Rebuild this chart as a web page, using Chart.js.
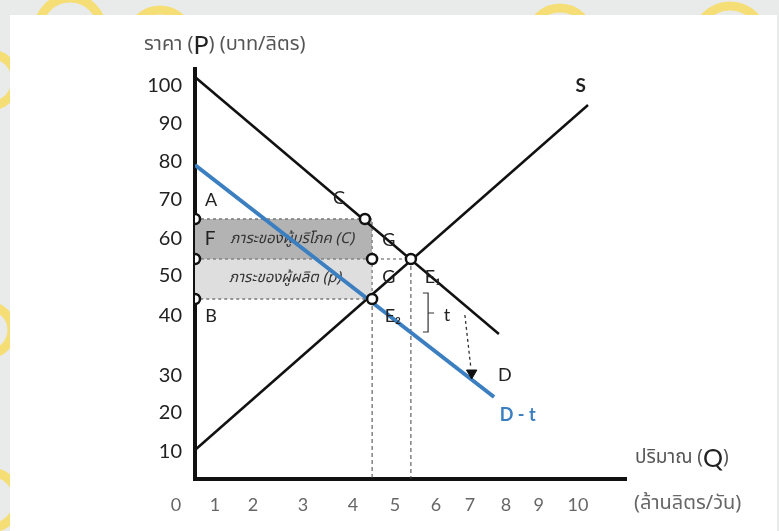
<!DOCTYPE html>
<html>
<head>
<meta charset="utf-8">
<script src="https://cdn.jsdelivr.net/npm/chart.js@4.4.0/dist/chart.umd.min.js"></script>
<style>
  body { margin: 0; background: #e9ebea; }
  canvas { display: block; }
</style>
</head>
<body>
<canvas id="taxChart" width="779" height="531"></canvas>
<script>
// Q = million litres/day, P = baht/litre
const demandQ = [0, 7.6];
const demandP = [100.5, 36.25];
const supplyQ = [0, 9.83];
const supplyP = [7.25, 93.5];
const taxedQ = [0, 7.48];
const taxedP = [78.5, 20.5];

const priceConsumer = 65;
const priceMarket = 55;
const priceProducer = 45;
const qtyTaxed = 4.43;
const qtyMarket = 5.4;
const qtyOnDemand = 4.25;

// tax shift arrow and the "t" bracket
const arrowQ = [6.75, 6.9];
const arrowP = [41, 27.75];
const arrowHead = [6.92, 26.5];
const bracketQ = [5.7, 5.83, 5.83, 5.98, 5.83, 5.83, 5.7];
const bracketP = [46.5, 46.5, 41.5, 41.5, 41.5, 36.75, 36.75];

// the printed axis numbers do not sit on an even grid
const xTickAt = [-0.475, 0.5, 1.45, 2.7, 3.95, 5.0, 6.03, 6.88, 7.78, 8.6, 9.58];
const xTickLabels = ["0", "1", "2", "3", "4", "5", "6", "7", "8", "9", "10"];
const yTickAt = [98.25, 88.75, 79.25, 69.75, 60, 50.75, 40.75, 25.75, 16.5, 6.75];
const yTickLabels = ["100", "90", "80", "70", "60", "50", "40", "30", "20", "10"];

const pts = (qs, ps) => qs.map((q, i) => ({ x: q, y: ps[i] }));

const thai = "'Noto Sans Thai', 'Noto Sans', 'DejaVu Sans', sans-serif";
const latin = "Lato, 'Open Sans', sans-serif";

const blue = "#3c7fc1";
const dashGray = "#7a7a7a";

const markers = [
  { x: 0, y: priceConsumer },
  { x: 0, y: priceMarket },
  { x: 0, y: priceProducer },
  { x: qtyOnDemand, y: priceConsumer },
  { x: qtyTaxed, y: priceMarket },
  { x: qtyTaxed, y: priceProducer },
  { x: qtyMarket, y: priceMarket },
];

const letters = [
  { t: "A", q: 0.4, p: 69.75 },
  { t: "B", q: 0.4, p: 40.75 },
  { t: "C", q: 3.6, p: 70.25 },
  { t: "G", q: 4.85, p: 59.75 },
  { t: "G", q: 4.85, p: 50.5 },
  { t: "E\u2081", q: 5.95, p: 50.5 },
  { t: "E\u2082", q: 4.95, p: 40.75 },
  { t: "t", q: 6.3, p: 41 },
  { t: "D", q: 7.75, p: 26 },
];

function runs(ctx, x, y, parts) {
  ctx.textAlign = "left";
  ctx.textBaseline = "middle";
  parts.forEach(([txt, font, color]) => {
    ctx.font = font;
    ctx.fillStyle = color;
    ctx.fillText(txt, x, y);
    x += ctx.measureText(txt).width;
  });
}

const backdrop = {
  id: "backdrop",
  beforeDraw(chart) {
    const c = chart.ctx;
    c.save();
    c.fillStyle = "#e9ebea";
    c.fillRect(0, 0, chart.width, chart.height);
    // faint yellow watermark bits peeking out in the margin
    c.strokeStyle = "rgba(250, 218, 80, 0.75)";
    c.lineWidth = 9;
    [[70, 30, 32], [160, 40, 30], [560, 38, 30], [730, 40, 34], [-10, 80, 26], [-12, 330, 24], [-10, 500, 28]]
      .forEach(([x, y, r]) => { c.beginPath(); c.arc(x, y, r, 0, Math.PI * 2); c.stroke(); });
    c.fillStyle = "#ffffff";
    c.fillRect(10, 15, 767, chart.height - 15);
    c.restore();
  },
};

let outlineIndex = -1;

const notes = {
  id: "notes",
  afterDatasetDraw(chart, args) {
    if (args.index !== outlineIndex) return;
    const c = chart.ctx;
    const xs = chart.scales.x, ys = chart.scales.y;
    c.save();
    c.textAlign = "center";
    c.textBaseline = "middle";
    c.fillStyle = "#333";
    c.font = "italic 15px " + thai;
    c.fillText("ภาระของผู้บริโภค (C)", xs.getPixelForValue(2.43), ys.getPixelForValue(59.75));
    c.fillText("ภาระของผู้ผลิต (p)", xs.getPixelForValue(2.25), ys.getPixelForValue(50));
    c.font = "19px " + latin;
    c.fillStyle = "#222";
    c.fillText("F", xs.getPixelForValue(0.38), ys.getPixelForValue(60));
    c.restore();
  },
  afterDraw(chart) {
    const c = chart.ctx;
    const xs = chart.scales.x, ys = chart.scales.y;
    c.save();
    c.textAlign = "center";
    c.textBaseline = "middle";
    c.fillStyle = "#222";
    c.font = "18px " + latin;
    letters.forEach((l) => c.fillText(l.t, xs.getPixelForValue(l.q), ys.getPixelForValue(l.p)));
    c.font = "bold 19px " + latin;
    c.fillText("S", xs.getPixelForValue(9.65), ys.getPixelForValue(98.25));
    c.fillStyle = blue;
    c.font = "bold 18px " + latin;
    c.fillText("D - t", xs.getPixelForValue(8.07), ys.getPixelForValue(16));

    runs(c, 144, 46, [
      ["ราคา (", "20px " + thai, "#555"],
      ["P", "25px " + latin, "#222"],
      [") (บาท/ลิตร)", "20px " + thai, "#555"],
    ]);
    runs(c, 635, 459, [
      ["ปริมาณ (", "19px " + thai, "#555"],
      ["Q", "25px " + latin, "#222"],
      [")", "19px " + thai, "#555"],
    ]);
    runs(c, 634, 505, [["(ล้านลิตร/วัน)", "20px " + thai, "#666"]]);
    c.restore();
  },
};

const plain = { showLine: true, pointRadius: 0, fill: false, tension: 0 };

const datasets = [
  { ...plain, label: "markers", data: markers, showLine: false, pointRadius: 5, pointStyle: "circle",
    pointBackgroundColor: "#fff", pointBorderColor: "#111", pointBorderWidth: 2.5, order: 0 },
  { ...plain, label: "arrowhead", data: [{ x: arrowHead[0], y: arrowHead[1] }], showLine: false,
    pointRadius: 6, pointStyle: "triangle", pointRotation: 180, pointBackgroundColor: "#111",
    pointBorderColor: "#111", order: 1 },
  { ...plain, label: "D - t", data: pts(taxedQ, taxedP), borderColor: blue, borderWidth: 4, order: 2 },
  { ...plain, label: "D", data: pts(demandQ, demandP), borderColor: "#111", borderWidth: 2.5, order: 3 },
  { ...plain, label: "S", data: pts(supplyQ, supplyP), borderColor: "#111", borderWidth: 2.5, order: 3 },
  { ...plain, label: "t", data: pts(bracketQ, bracketP), borderColor: "#333", borderWidth: 1.2, order: 4 },
  { ...plain, label: "shift", data: pts(arrowQ, arrowP), borderColor: "#333", borderWidth: 1.3,
    borderDash: [3, 3], order: 4 },
  { ...plain, label: "outline",
    data: pts([0, qtyTaxed, qtyTaxed, 0], [priceConsumer, priceConsumer, priceProducer, priceProducer]),
    borderColor: dashGray, borderWidth: 1.3, borderDash: [3, 3], order: 8 },
  { ...plain, label: "market price", data: pts([0, qtyMarket], [priceMarket, priceMarket]),
    borderColor: dashGray, borderWidth: 1.3, borderDash: [3, 3], order: 8 },
  { ...plain, label: "Q taxed", data: pts([qtyTaxed, qtyTaxed], [priceProducer, 0]),
    borderColor: "#444", borderWidth: 1, borderDash: [4, 3], order: 8 },
  { ...plain, label: "Q market", data: pts([qtyMarket, qtyMarket], [priceMarket, 0]),
    borderColor: "#444", borderWidth: 1, borderDash: [4, 3], order: 8 },
  { ...plain, label: "consumer burden", data: pts([0, qtyTaxed], [priceConsumer, priceConsumer]),
    borderWidth: 0, fill: { value: priceMarket }, backgroundColor: "#b3b3b3", order: 10 },
  { ...plain, label: "producer burden", data: pts([0, qtyTaxed], [priceMarket, priceMarket]),
    borderWidth: 0, fill: { value: priceProducer }, backgroundColor: "#dedede", order: 10 },
];
outlineIndex = datasets.findIndex((d) => d.label === "outline");

new Chart(document.getElementById("taxChart"), {
  type: "line",
  data: { datasets },
  options: {
    responsive: false,
    animation: false,
    layout: { padding: { top: 69, right: 153, left: 0, bottom: 0 } },
    plugins: { legend: { display: false }, tooltip: { enabled: false } },
    scales: {
      x: {
        type: "linear",
        min: 0,
        max: 10.78,
        afterBuildTicks: (s) => { s.ticks = xTickAt.map((v) => ({ value: v })); },
        afterFit: (s) => { s.height = 52; },
        grid: { display: false, drawTicks: false },
        border: { display: true, color: "#111", width: 4 },
        ticks: {
          autoSkip: false,
          maxRotation: 0,
          padding: 15,
          color: "#666",
          font: { family: latin, size: 18 },
          callback: (v, i) => xTickLabels[i],
        },
      },
      y: {
        type: "linear",
        min: 0,
        max: 102.5,
        afterBuildTicks: (s) => { s.ticks = yTickAt.map((v) => ({ value: v })); },
        afterFit: (s) => { s.width = 195; },
        grid: { display: false, drawTicks: false },
        border: { display: true, color: "#111", width: 4 },
        ticks: {
          autoSkip: false,
          padding: 13,
          color: "#222",
          font: { family: latin, size: 20 },
          callback: (v, i) => yTickLabels[i],
        },
      },
    },
  },
  plugins: [backdrop, notes],
});
</script>
</body>
</html>
